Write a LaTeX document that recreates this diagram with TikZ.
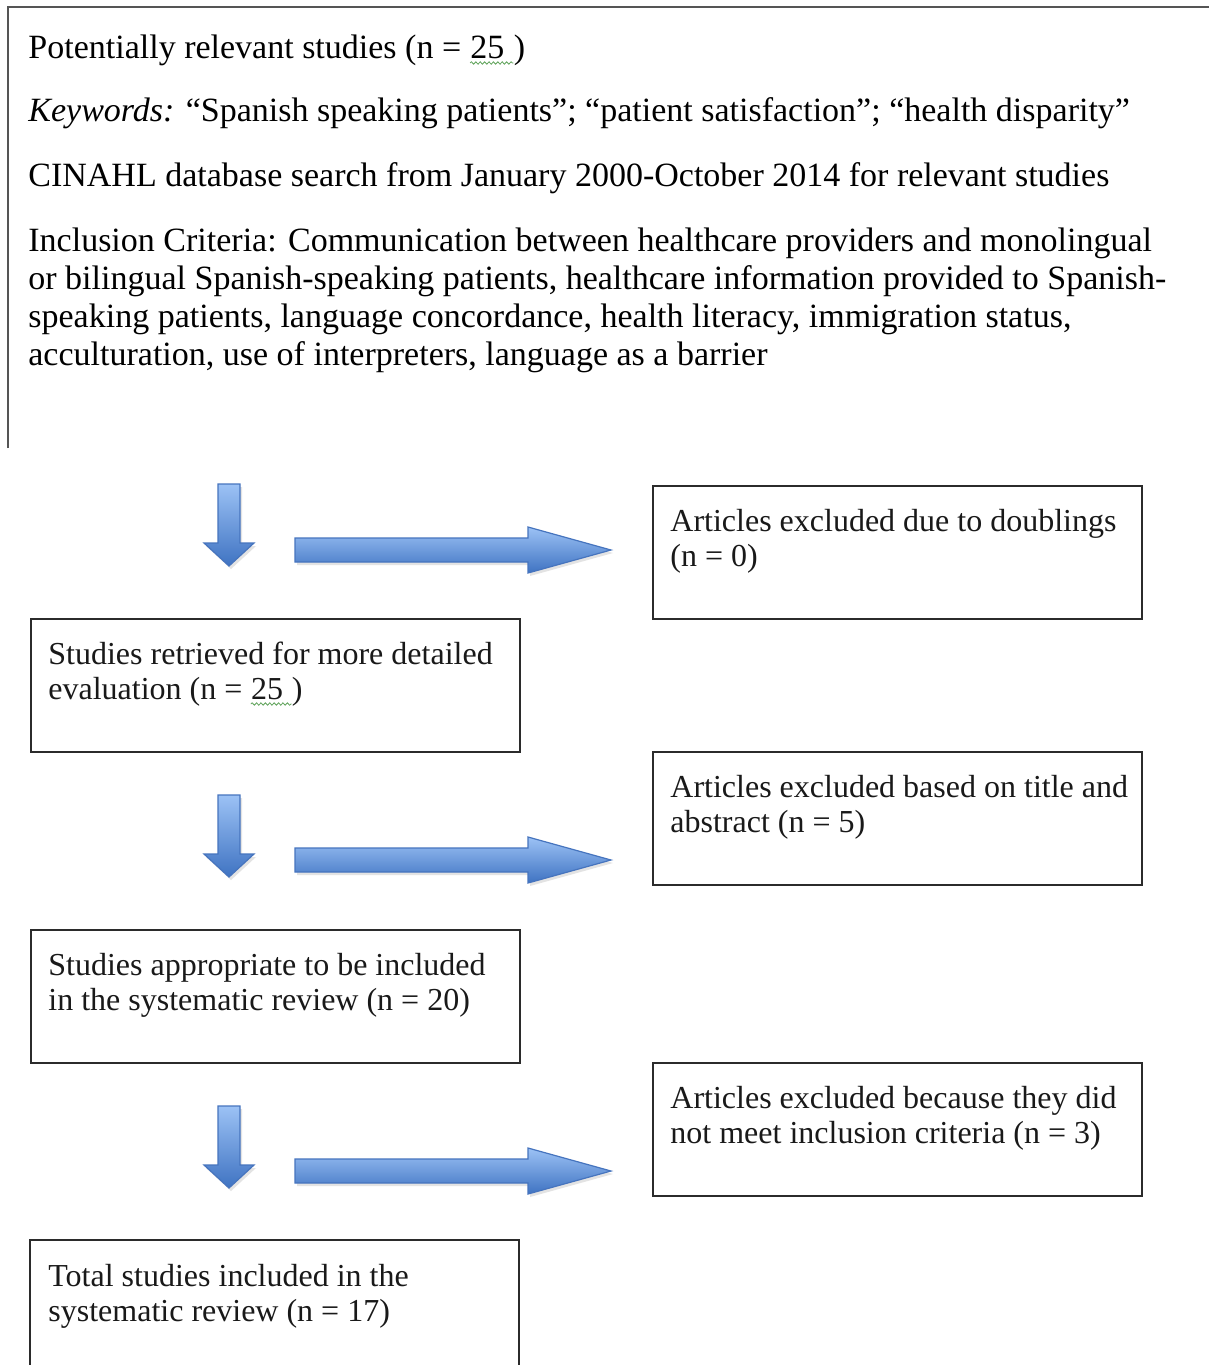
\documentclass[tikz,border=0pt]{standalone}
\usepackage{fontspec}
\setmainfont{Liberation Serif}
\usetikzlibrary{shadows,decorations.pathmorphing}
\definecolor{arrlight}{HTML}{9CC2F5}
\definecolor{arrdark}{HTML}{3F73C2}
\definecolor{arredge}{HTML}{4674BE}
\definecolor{boxline}{HTML}{2B2B2B}
\definecolor{topline}{HTML}{555555}
\definecolor{wavegreen}{HTML}{5FA35A}
\newcommand{\dnarrow}[2]{%
  \path[blockarrow] (#1-11,#2) -- (#1+11,#2) -- (#1+11,#2+59) -- (#1+25,#2+59)
    -- (#1,#2+82) -- (#1-25,#2+59) -- (#1-11,#2+59) -- cycle;}
\newcommand{\rtarrow}[1]{%
  \path[blockarrow] (295,#1-12) -- (528,#1-12) -- (528,#1-23) -- (611,#1)
    -- (528,#1+23) -- (528,#1+12) -- (295,#1+12) -- cycle;}
\begin{document}
\begin{tikzpicture}[x=0.5pt,y=-0.5pt,
  toptext/.style={inner sep=0pt, anchor=base west, font=\fontsize{17}{19}\selectfont},
  boxtext/.style={inner sep=0pt, anchor=base west, text=black!90, font=\fontsize{16}{17.5}\selectfont},
  stagebox/.style={draw=boxline, line width=0.8pt, minimum width=244.5pt, minimum height=66.5pt, anchor=north west, inner sep=0pt},
  blockarrow/.style={top color=arrlight, bottom color=arrdark, draw=arredge, line width=0.6pt,
    drop shadow={shadow xshift=1pt, shadow yshift=-1.5pt, opacity=0.18, fill=black!60}},
  wavy/.style={draw=wavegreen, line width=0.4pt, decorate, decoration={snake, amplitude=0.6pt, segment length=2.2pt}}]

\useasboundingbox (0,0) rectangle (1209,1365);
\fill[white] (0,0) rectangle (1209,1365);

% top box (open at right and bottom)
\draw[topline, line width=1pt] (8,448) -- (8,7) -- (1215,7);

\node[toptext] (t1a) at (28,58) {Potentially relevant studies (n =\ \mbox{}};
\node[toptext] (t1b) at (t1a.base east) {25\ \mbox{}};
\node[toptext] (t1c) at (t1b.base east) {)};
\draw[wavy] ([yshift=-2.5pt]t1b.base west) -- ([yshift=-2.5pt]t1b.base east);
\node[toptext] (t2) at (28,121) {\textit{Keywords:} “Spanish speaking patients”; “patient satisfaction”; “health disparity”};
\node[toptext] (t3) at (28,186) {CINAHL database search from January 2000-October 2014 for relevant studies};
\node[toptext] (t4) at (28,251) {Inclusion Criteria: Communication between healthcare providers and monolingual};
\node[toptext] (t5) at (28,289) {or bilingual Spanish-speaking patients, healthcare information provided to Spanish-};
\node[toptext] (t6) at (28,327) {speaking patients, language concordance, health literacy, immigration status,};
\node[toptext] (t7) at (28,365) {acculturation, use of interpreters, language as a barrier};

% stage boxes
\node[stagebox] (r1) at (652,485) {};
\node[stagebox] (l1) at (30,618) {};
\node[stagebox] (r2) at (652,751) {};
\node[stagebox] (l2) at (30,929) {};
\node[stagebox] (r3) at (652,1062) {};
\coordinate (l3) at (30,1240);
\draw[boxline, line width=0.8pt] (30,1370) -- (l3) -- (519,1240) -- (519,1370);

% box texts
\node[boxtext] (r1a) at ([xshift=9pt,yshift=-23pt]r1.north west) {Articles excluded due to doublings};
\node[boxtext] (r1b) at ([xshift=9pt,yshift=-40.5pt]r1.north west) {(n = 0)};

\node[boxtext] (l1a) at ([xshift=9pt,yshift=-23pt]l1.north west) {Studies retrieved for more detailed};
\node[boxtext] (l1b) at ([xshift=9pt,yshift=-40.5pt]l1.north west) {evaluation (n =\ \mbox{}};
\node[boxtext] (l1c) at (l1b.base east) {25\ \mbox{}};
\node[boxtext] (l1d) at (l1c.base east) {)};
\draw[wavy] ([yshift=-2.5pt]l1c.base west) -- ([yshift=-2.5pt]l1c.base east);

\node[boxtext] (r2a) at ([xshift=9pt,yshift=-23pt]r2.north west) {Articles excluded based on title and};
\node[boxtext] (r2b) at ([xshift=9pt,yshift=-40.5pt]r2.north west) {abstract (n = 5)};

\node[boxtext] (l2a) at ([xshift=9pt,yshift=-23pt]l2.north west) {Studies appropriate to be included};
\node[boxtext] (l2b) at ([xshift=9pt,yshift=-40.5pt]l2.north west) {in the systematic review (n = 20)};

\node[boxtext] (r3a) at ([xshift=9pt,yshift=-23pt]r3.north west) {Articles excluded because they did};
\node[boxtext] (r3b) at ([xshift=9pt,yshift=-40.5pt]r3.north west) {not meet inclusion criteria (n = 3)};

\node[boxtext] (l3a) at ([xshift=9pt,yshift=-23pt]l3) {Total studies included in the};
\node[boxtext] (l3b) at ([xshift=9pt,yshift=-40.5pt]l3) {systematic review (n = 17)};

% block arrows
\dnarrow{229}{484}
\rtarrow{550}
\dnarrow{229}{795}
\rtarrow{860}
\dnarrow{229}{1106}
\rtarrow{1171}
\end{tikzpicture}
\end{document}
